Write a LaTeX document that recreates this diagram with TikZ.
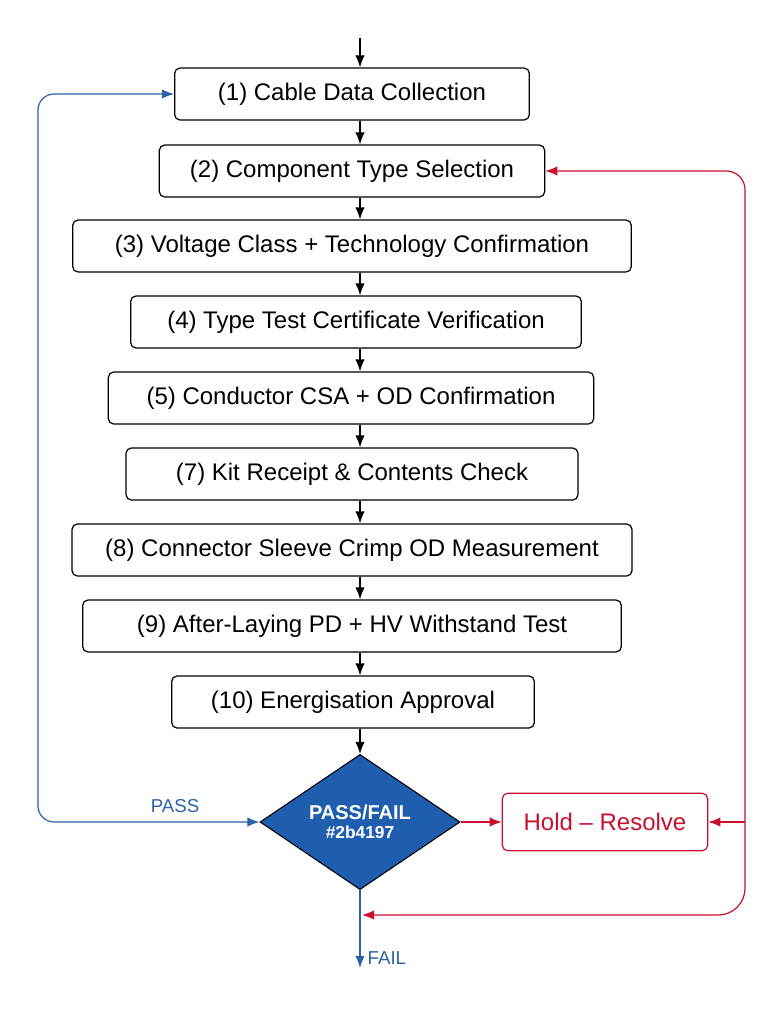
\documentclass[tikz,border=0pt]{standalone}
\usepackage{fontspec}
\setmainfont{Liberation Sans}
\usetikzlibrary{shapes.geometric,arrows.meta}
\definecolor{dblue}{HTML}{2B62A8}
\definecolor{fillb}{HTML}{1F5DAE}
\definecolor{dred}{HTML}{C8102E}
\begin{document}
\begin{tikzpicture}[x=0.75pt,y=-0.75pt,
 box/.style={draw,rounded corners=4pt,line width=0.9pt,minimum height=39pt,inner sep=0pt,font=\fontsize{18}{21}\selectfont},
 arr/.style={-{Latex[length=9pt,width=7pt]},line width=0.9pt},
 barr/.style={arr,dblue},
 rarr/.style={arr,dred}]
\useasboundingbox (0,0) rectangle (768,1024);
\node[box,minimum width=266pt] (b1) at (352,94) {(1) Cable Data Collection};
\node[box,minimum width=289pt] (b2) at (352,171) {(2) Component Type Selection};
\node[box,minimum width=419pt] (b3) at (352,246) {(3) Voltage Class + Technology Confirmation};
\node[box,minimum width=338pt] (b4) at (356,322) {(4) Type Test Certificate Verification};
\node[box,minimum width=364pt] (b5) at (351,398) {(5) Conductor CSA + OD Confirmation};
\node[box,minimum width=339pt] (b7) at (352,474) {(7) Kit Receipt \& Contents Check};
\node[box,minimum width=420pt] (b8) at (352,550) {(8) Connector Sleeve Crimp OD Measurement};
\node[box,minimum width=404pt] (b9) at (352,626) {(9) After-Laying PD + HV Withstand Test};
\node[box,minimum width=272pt] (b10) at (353,702) {(10) Energisation Approval};
\node[diamond,draw=black,fill=fillb,line width=0.8pt,minimum width=150pt,minimum height=101pt,inner sep=0pt,text=white,align=center] (d) at (360,822)
 {{\fontsize{15}{17}\selectfont\bfseries PASS/FAIL}\\[2pt]{\fontsize{13}{15}\selectfont\bfseries \#2b4197}};
\node[draw=dred,rounded corners=4pt,line width=0.9pt,minimum width=154pt,minimum height=43pt,text=dred,font=\fontsize{18}{20}\selectfont] (h) at (605,822) {Hold -- Resolve};
\coordinate (top) at (360,38);
\coordinate (fail) at (360,968);
\coordinate (rc) at (745,822);
\draw[arr] (top) -- (b1.north -| top);
\foreach \a/\b in {b1/b2,b2/b3,b3/b4,b4/b5,b5/b7,b7/b8,b8/b9,b9/b10,b10/d}
 \draw[arr] (\a.south -| top) -- (\b.north -| top);
\draw[{Latex[length=9pt,width=7pt]}-{Latex[length=9pt,width=7pt]},line width=0.9pt,dblue,rounded corners=12pt] (d.west) -- (38,822) -- (38,94) -- (b1.west);
\node[text=dblue,font=\fontsize{14}{16}\selectfont] (pl) at (175,806) {PASS};
\draw[rarr] (d.east) -- (h.west);
\draw[rarr,rounded corners=14pt] (rc) -- (745,171) -- (b2.east);
\draw[rarr] (rc) -- (h.east);
\draw[rarr,rounded corners=20pt] (rc) -- (745,915) -- (362,915);
\draw[barr] (d.south) -- (fail);
\node[text=dblue,anchor=west,font=\fontsize{14}{16}\selectfont] (fl) at (363,958) {FAIL};
\end{tikzpicture}
\end{document}
